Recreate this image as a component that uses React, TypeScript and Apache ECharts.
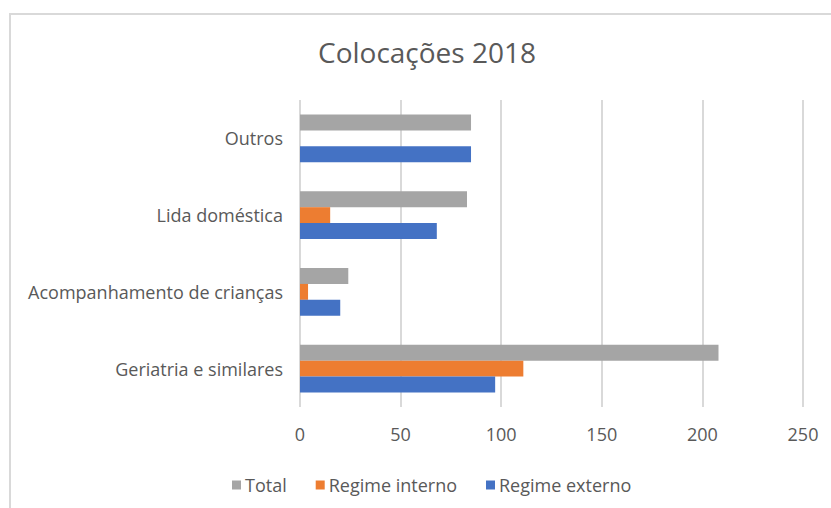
import React, { useEffect, useRef } from "react";
import * as echarts from "echarts";

const categories = [
  "Geriatria e similares",
  "Acompanhamento de crianças",
  "Lida doméstica",
  "Outros",
];
const seriesNames = ["Total", "Regime interno", "Regime externo"];
const totalValues = [208, 24, 83, 85];
const internoValues = [111, 4, 15, 0];
const externoValues = [97, 20, 68, 85];
const xTicks = [0, 50, 100, 150, 200, 250];

const FONT = "'Open Sans', 'Noto Sans', sans-serif";
const TEXT = "#595959";

export default function App() {
  const ref = useRef<HTMLDivElement>(null);
  useEffect(() => {
    if (!ref.current) return;
    const chart = echarts.init(ref.current, null, { renderer: "svg" });
    chart.setOption({
      animation: false,
      backgroundColor: "#ffffff",
      graphic: [
        {
          type: "rect",
          shape: { x: 10, y: 14, width: 900, height: 600 },
          style: { fill: "none", stroke: "#d9d9d9", lineWidth: 2 },
          silent: true,
        },
      ],
      title: {
        text: "Colocações 2018",
        left: 422,
        textAlign: "center",
        top: 33,
        textStyle: {
          fontFamily: FONT,
          fontSize: 28,
          fontWeight: "normal",
          color: TEXT,
        },
      },
      legend: {
        data: seriesNames,
        left: 227,
        top: 471,
        itemWidth: 9,
        itemHeight: 9,
        itemGap: 29,
        icon: "rect",
        textStyle: { fontFamily: FONT, fontSize: 18, color: TEXT, padding: [0, 0, 0, -1] },
      },
      grid: {
        left: 300,
        right: 28,
        top: 100,
        bottom: 101,
        containLabel: false,
      },
      xAxis: {
        type: "value",
        min: xTicks[0],
        max: xTicks[xTicks.length - 1],
        interval: xTicks[1] - xTicks[0],
        axisLine: { show: false },
        axisTick: { show: false },
        splitLine: { show: true, lineStyle: { color: "#d9d9d9", width: 2 } },
        axisLabel: {
          fontFamily: FONT,
          fontSize: 18,
          color: TEXT,
          margin: 18,
        },
      },
      yAxis: {
        type: "category",
        data: categories,
        axisLine: { show: false },
        axisTick: { show: false },
        axisLabel: {
          fontFamily: FONT,
          fontSize: 18,
          color: TEXT,
          margin: 17,
        },
      },
      series: [
        {
          name: seriesNames[0],
          type: "bar",
          data: totalValues,
          itemStyle: { color: "#a5a5a5" },
          barGap: "0%",
          barCategoryGap: "38%",
        },
        {
          name: seriesNames[1],
          type: "bar",
          data: internoValues,
          itemStyle: { color: "#ed7d31" },
          barGap: "0%",
          barCategoryGap: "38%",
        },
        {
          name: seriesNames[2],
          type: "bar",
          data: externoValues,
          itemStyle: { color: "#4472c4" },
          barGap: "0%",
          barCategoryGap: "38%",
        },
      ],
    });
    return () => chart.dispose();
  }, []);
  return (
    <div
      ref={ref}
      style={{ position: "fixed", left: 0, top: 0, width: 831, height: 508 }}
    />
  );
}
